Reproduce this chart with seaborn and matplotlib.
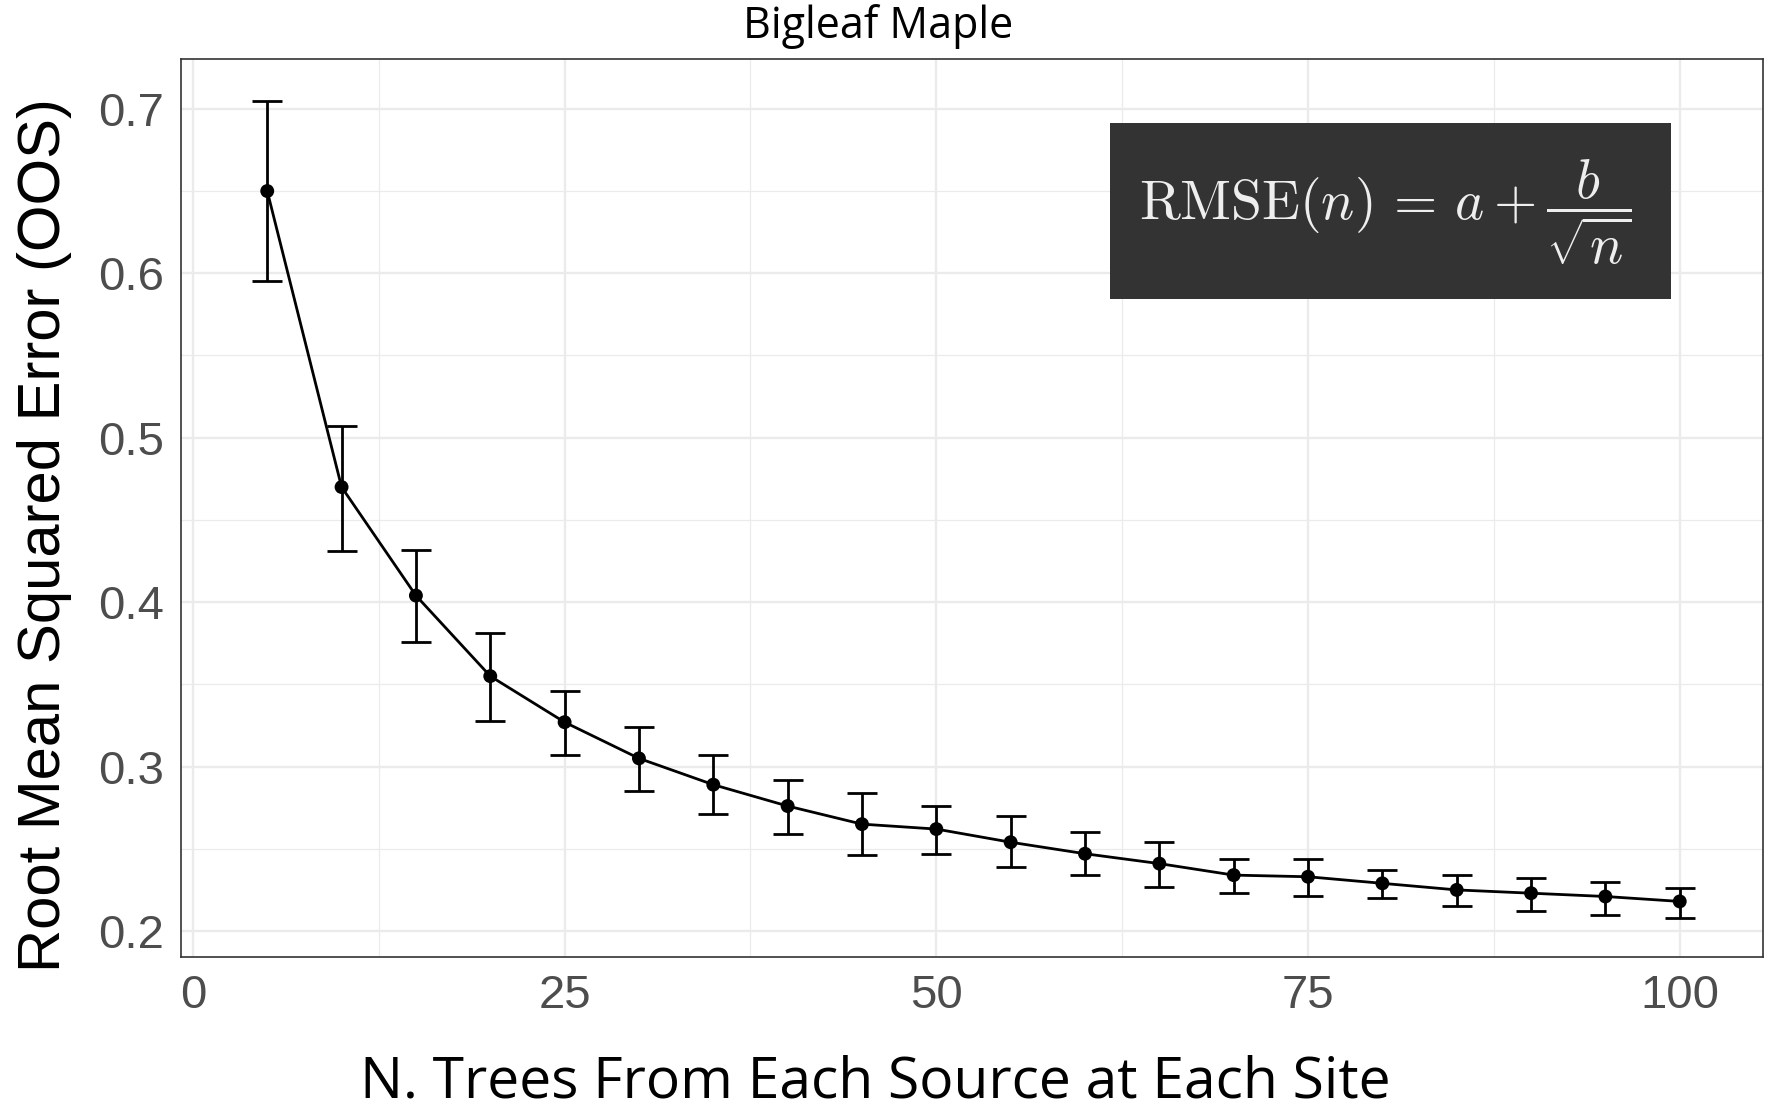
import numpy as np
import pandas as pd
import seaborn as sns
import matplotlib
matplotlib.use("Agg")
import matplotlib.pyplot as plt
from matplotlib.patches import Rectangle
from matplotlib.ticker import MultipleLocator

# Out-of-sample RMSE by number of trees per source per site
n_trees = [5, 10, 15, 20, 25, 30, 35, 40, 45, 50, 55, 60, 65, 70, 75, 80, 85, 90, 95, 100]
rmse = [0.650, 0.470, 0.404, 0.355, 0.327, 0.305, 0.289, 0.276, 0.265, 0.262,
        0.254, 0.247, 0.241, 0.234, 0.233, 0.229, 0.225, 0.223, 0.221, 0.218]
rmse_upper = [0.705, 0.507, 0.432, 0.381, 0.346, 0.324, 0.307, 0.292, 0.284, 0.276,
              0.270, 0.260, 0.254, 0.244, 0.244, 0.237, 0.234, 0.232, 0.230, 0.226]
rmse_lower = [0.595, 0.431, 0.376, 0.328, 0.307, 0.285, 0.271, 0.259, 0.246, 0.247,
              0.239, 0.234, 0.227, 0.223, 0.221, 0.220, 0.215, 0.212, 0.210, 0.208]

title = "Bigleaf Maple"
x_label = "N. Trees From Each Source at Each Site"
y_label = "Root Mean Squared Error (OOS)"
formula = r"$\mathrm{RMSE}(n)\,=\,a+\dfrac{b}{\sqrt{n}}$"
x_ticks = [0, 25, 50, 75, 100]
y_ticks = [0.2, 0.3, 0.4, 0.5, 0.6, 0.7]

df = pd.DataFrame({"n": n_trees, "rmse": rmse, "lo": rmse_lower, "hi": rmse_upper})

sns.set_theme(style="white")
plt.rcParams["font.family"] = ["Liberation Sans", "DejaVu Sans"]
plt.rcParams["mathtext.fontset"] = "cm"

W, H = 1774, 1112
fig = plt.figure(figsize=(W / 100, H / 100), dpi=100)
ax = fig.add_axes([181 / W, 1 - 957 / H, (1763 - 181) / W, (957 - 59) / H])

# error bars
ax.errorbar(df["n"], df["rmse"],
            yerr=[df["rmse"] - df["lo"], df["hi"] - df["rmse"]],
            fmt="none", ecolor="black", elinewidth=2.0, capsize=10.5,
            capthick=2.0, zorder=3)
sns.lineplot(data=df, x="n", y="rmse", ax=ax, color="black", linewidth=2.0,
             zorder=4)
sns.scatterplot(data=df, x="n", y="rmse", ax=ax, color="black", s=100,
                edgecolor="none", zorder=5)

ax.set_xlim(-0.8, 105.6)
ax.set_ylim(0.1842, 0.7303)
ax.set_xticks(x_ticks)
ax.set_yticks(y_ticks)
ax.set_xticklabels([str(t) for t in x_ticks])
ax.set_yticklabels([f"{t:.1f}" for t in y_ticks])
ax.xaxis.set_minor_locator(MultipleLocator(12.5))
ax.yaxis.set_minor_locator(MultipleLocator(0.05))

ax.grid(which="major", color="#EBEBEB", linewidth=1.7)
ax.grid(which="minor", color="#EBEBEB", linewidth=0.9)
ax.set_axisbelow(True)
for sp in ax.spines.values():
    sp.set_color("#333333")
    sp.set_linewidth(1.2)

ax.tick_params(axis="both", which="major", length=6, width=1.5, color="#333333",
               labelsize=34, labelcolor="#4D4D4D", pad=6)
ax.tick_params(axis="both", which="minor", length=0)
ax.set_xlabel("")
ax.set_ylabel("")

# formula box
fig.patches.append(Rectangle((1110 / W, 1 - 299 / H), (1671 - 1110) / W, (299 - 123) / H,
                             transform=fig.transFigure, facecolor="#333333",
                             edgecolor="none", zorder=6))
fig.text(1385 / W, 1 - 212 / H, formula, fontsize=40, color="#EEEEEE",
         ha="center", va="center", zorder=7)

fig.text(878 / W, 1 - 27 / H, title, ha="center", va="center",
         fontsize=31, family=["Open Sans", "DejaVu Sans"], color="black")
fig.text(875 / W, 1 - 1083 / H, x_label, ha="center", va="center",
         fontsize=41, family=["Open Sans", "DejaVu Sans"], color="black")
fig.text(45 / W, 1 - 535 / H, y_label, ha="center", va="center",
         rotation=90, fontsize=43, color="black")

fig.savefig("out.png", dpi=100, facecolor="white")
